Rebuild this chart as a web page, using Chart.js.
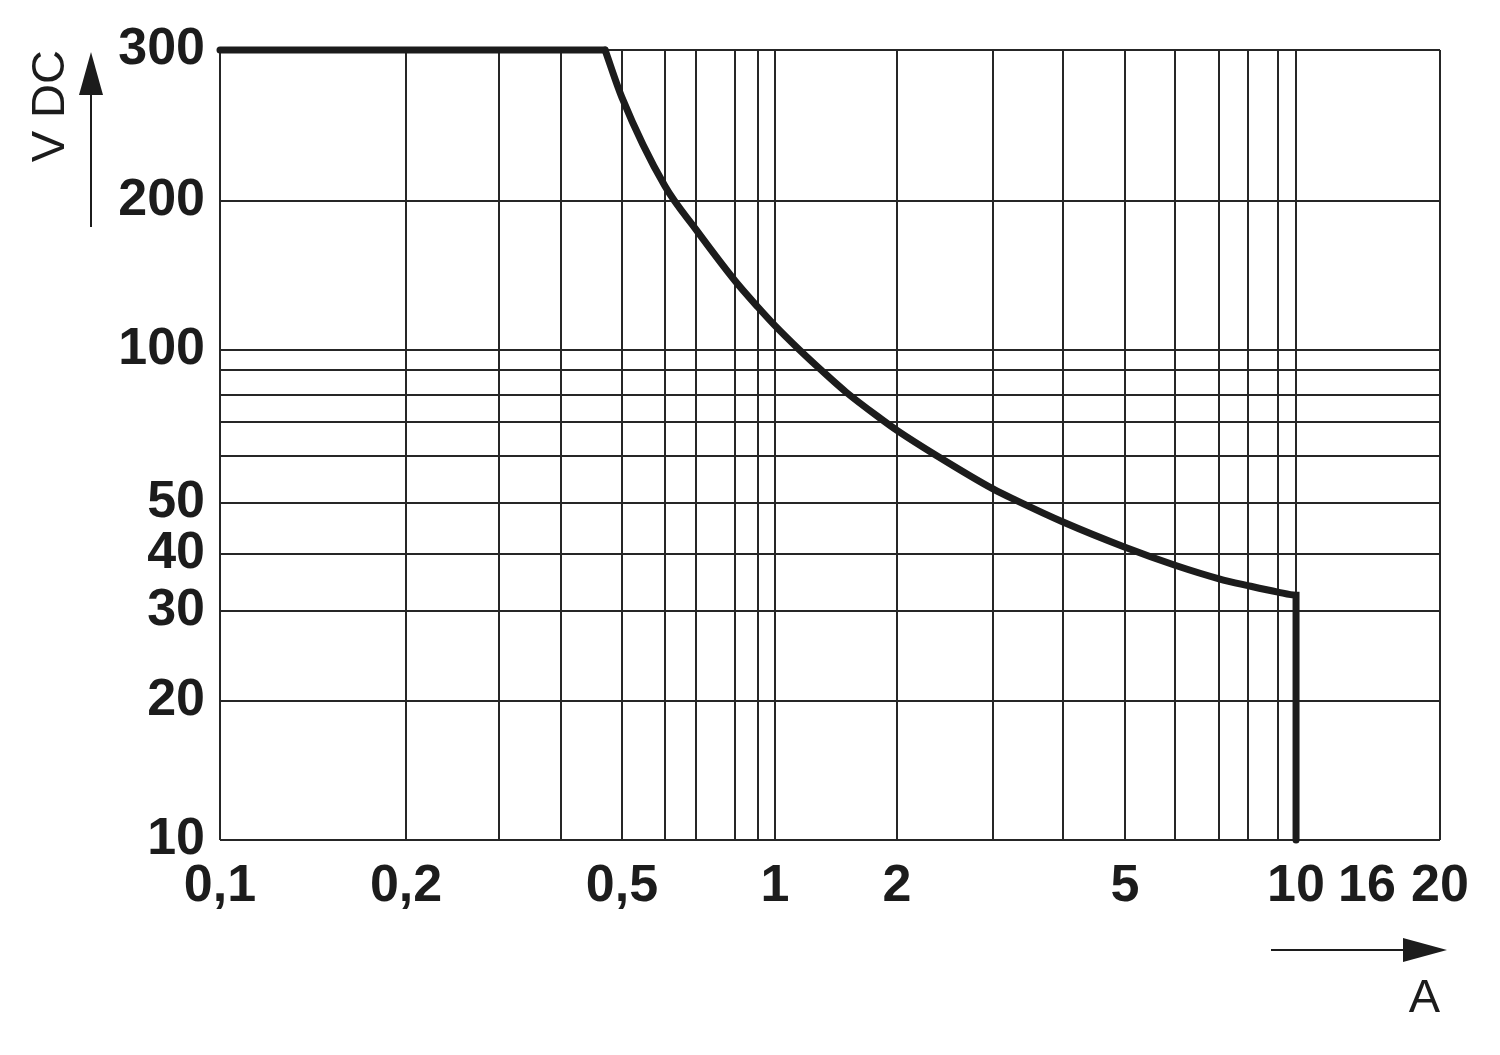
<!DOCTYPE html>
<html>
<head>
<meta charset="utf-8">
<script src="https://cdn.jsdelivr.net/npm/chart.js@4/dist/chart.umd.min.js"></script>
<style>
  html, body { margin: 0; padding: 0; background: #ffffff; }
  #wrap { width: 1500px; height: 1055px; position: relative; }
</style>
</head>
<body>
<div id="wrap"><canvas id="c" width="1500" height="1055"></canvas></div>
<script>
// ---- data ----
const currentA   = [0.1, 0.47, 0.5, 0.6, 0.7, 0.8, 0.9, 1, 1.15, 1.3, 1.5, 1.83, 2, 2.37, 3, 3.3, 4, 5, 6, 7, 8, 9, 10, 10];
const voltageVDC = [300, 300, 264, 208, 175, 138, 122, 112, 100, 90, 81, 71, 67.4, 60, 52.8, 50.5, 46, 41.2, 37.8, 35.3, 34.1, 33, 32.5, 10];
const flatPartEnd = 1; // index where the constant 300 V part ends and the curve begins

const xTickValues   = [0.1, 0.2, 0.3, 0.4, 0.5, 0.6, 0.7, 0.8, 0.9, 1, 2, 3, 4, 5, 6, 7, 8, 9, 10, 16, 20];
const xTickLabels   = [0.1, 0.2, 0.5, 1, 2, 5, 10, 16, 20];
const xNoGridValues = [16];
const yTickValues   = [10, 20, 30, 40, 50, 60, 70, 80, 90, 100, 200, 300];
const yTickLabels   = [10, 20, 30, 40, 50, 100, 200, 300];

const xTitle = 'A';
const yTitle = 'V DC';

// ---- axis calibration of the printed (hand-drawn) log grid: [value, fraction along axis] ----
const xCalibration = [[0.1,0],[0.2,0.1525],[0.3,0.2287],[0.4,0.2795],[0.5,0.3295],[0.6,0.3648],[0.7,0.3902],[0.8,0.4221],[0.9,0.4410],[1,0.4549],[2,0.5549],[3,0.6336],[4,0.6910],[5,0.7418],[6,0.7828],[7,0.8189],[8,0.8426],[9,0.8672],[10,0.8820],[16,0.9402],[20,1]];
const yCalibration = [[10,0],[20,0.1759],[30,0.2899],[40,0.3620],[50,0.4266],[60,0.4861],[70,0.5291],[80,0.5633],[90,0.5949],[100,0.6203],[200,0.8089],[300,1]];

// ---- custom log scale following the calibrated grid ----
class CalibratedLogScale extends Chart.Scale {
  parse(raw) { return raw == null ? null : +raw; }
  determineDataLimits() {
    const k = this.options.calibration;
    this.min = k[0][0];
    this.max = k[k.length - 1][0];
  }
  buildTicks() {
    return this.options.tickValues.map(v => ({ value: v }));
  }
  getLabelForValue(v) { return String(v).replace('.', ','); }
  _decimal(v) {
    const k = this.options.calibration;
    const lv = Math.log10(v);
    for (let i = 0; i < k.length - 1; i++) {
      const a = Math.log10(k[i][0]), b = Math.log10(k[i + 1][0]);
      if (lv <= b || i === k.length - 2) {
        return k[i][1] + (k[i + 1][1] - k[i][1]) * (lv - a) / (b - a);
      }
    }
    return 0;
  }
  getPixelForValue(v) { return this.getPixelForDecimal(this._decimal(v)); }
  getPixelForTick(index) {
    const t = this.ticks;
    return (index < 0 || index >= t.length) ? NaN : this.getPixelForValue(t[index].value);
  }
  getValueForPixel(pixel) {
    const d = this.getDecimalForPixel(pixel);
    const k = this.options.calibration;
    for (let i = 0; i < k.length - 1; i++) {
      if (d <= k[i + 1][1] || i === k.length - 2) {
        const a = Math.log10(k[i][0]), b = Math.log10(k[i + 1][0]);
        const t = (d - k[i][1]) / (k[i + 1][1] - k[i][1]);
        return Math.pow(10, a + (b - a) * t);
      }
    }
    return this.min;
  }
}
CalibratedLogScale.id = 'calibratedLog';
CalibratedLogScale.defaults = {};
Chart.register(CalibratedLogScale);

const INK = '#1c1c1c';
const GRID = '#262626';

const arrowsPlugin = {
  id: 'axisArrows',
  afterDraw(chart) {
    const ctx = chart.ctx;
    const a = chart.chartArea;
    ctx.save();
    ctx.strokeStyle = INK;
    ctx.fillStyle = INK;
    ctx.lineWidth = 2;
    // vertical arrow next to y title
    const vx = a.left - 129;
    ctx.beginPath();
    ctx.moveTo(vx, a.top + 177);
    ctx.lineTo(vx, a.top + 44);
    ctx.stroke();
    ctx.beginPath();
    ctx.moveTo(vx - 12, a.top + 45);
    ctx.lineTo(vx + 12, a.top + 45);
    ctx.lineTo(vx, a.top + 2);
    ctx.closePath();
    ctx.fill();
    // horizontal arrow above x title
    const hy = a.bottom + 110;
    ctx.beginPath();
    ctx.moveTo(a.right - 169, hy);
    ctx.lineTo(a.right - 36, hy);
    ctx.stroke();
    ctx.beginPath();
    ctx.moveTo(a.right - 37, hy - 12);
    ctx.lineTo(a.right - 37, hy + 12);
    ctx.lineTo(a.right + 7, hy);
    ctx.closePath();
    ctx.fill();
    ctx.restore();
  }
};

const fmt = v => String(v).replace('.', ',');
const points = currentA.map((x, i) => ({ x: x, y: voltageVDC[i] }));
const lineStyle = {
  borderColor: INK,
  borderWidth: 7,
  borderCapStyle: 'round',
  borderJoinStyle: 'miter',
  pointRadius: 0,
  fill: false,
  clip: false
};

new Chart(document.getElementById('c'), {
  type: 'line',
  data: {
    datasets: [
      Object.assign({ data: points.slice(0, flatPartEnd + 1), tension: 0 }, lineStyle),
      Object.assign({ data: points.slice(flatPartEnd), cubicInterpolationMode: 'monotone' }, lineStyle)
    ]
  },
  options: {
    responsive: false,
    animation: false,
    events: [],
    layout: { padding: { left: 0, top: 50, right: 60, bottom: 0 } },
    plugins: { legend: { display: false }, tooltip: { enabled: false }, title: { display: false } },
    scales: {
      x: {
        type: 'calibratedLog',
        position: 'bottom',
        calibration: xCalibration,
        tickValues: xTickValues,
        border: { display: false },
        grid: {
          drawTicks: false,
          lineWidth: 2,
          color: c => (c.tick && xNoGridValues.includes(c.tick.value)) ? 'rgba(0,0,0,0)' : GRID
        },
        ticks: {
          autoSkip: false,
          maxRotation: 0,
          minRotation: 0,
          padding: 15,
          color: INK,
          font: { family: '"Liberation Sans", Arial, sans-serif', size: 52, weight: 'bold' },
          callback: v => xTickLabels.includes(v) ? fmt(v) : ''
        },
        title: {
          display: true,
          text: xTitle,
          align: 'end',
          color: INK,
          font: { family: '"Liberation Sans", Arial, sans-serif', size: 47, weight: 'normal' },
          padding: { top: 40, bottom: 28 }
        },
        afterFit: s => { s.height = 215; }
      },
      y: {
        type: 'calibratedLog',
        position: 'left',
        calibration: yCalibration,
        tickValues: yTickValues,
        border: { display: false },
        grid: { drawTicks: false, lineWidth: 2, color: GRID },
        ticks: {
          autoSkip: false,
          padding: 15,
          color: INK,
          font: { family: '"Liberation Sans", Arial, sans-serif', size: 52, weight: 'bold' },
          callback: v => yTickLabels.includes(v) ? fmt(v) : ''
        },
        title: {
          display: true,
          text: yTitle,
          align: 'end',
          color: INK,
          font: { family: '"Liberation Sans", Arial, sans-serif', size: 47, weight: 'normal' },
          padding: { top: 23, bottom: 10 }
        },
        afterFit: s => { s.width = 220; }
      }
    }
  },
  plugins: [arrowsPlugin]
});
</script>
</body>
</html>
